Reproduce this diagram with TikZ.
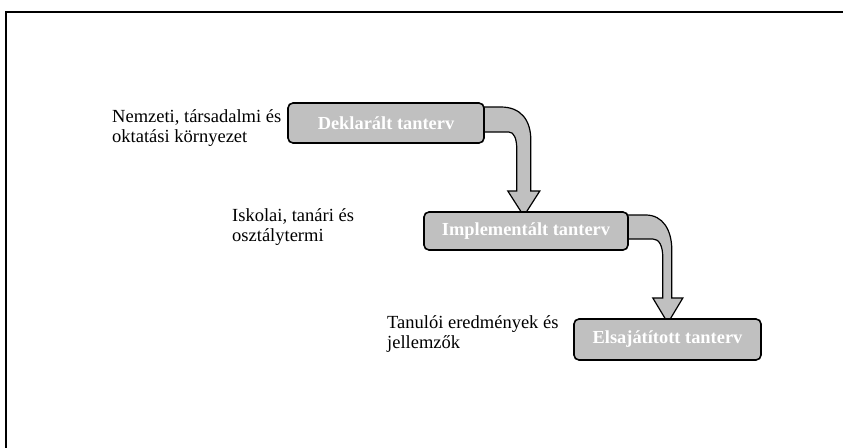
\documentclass[tikz,border=0pt]{standalone}
\usepackage{fontspec}
\setmainfont{Liberation Serif}
\usetikzlibrary{backgrounds}
\definecolor{boxgray}{HTML}{C0C0C0}

\begin{document}
\begin{tikzpicture}[x=1pt, y=-1pt]
  \tikzset{stage/.style={draw, line width=1.6pt, rounded corners=5pt, fill=boxgray,
                         text=white, font=\fontsize{18.4}{20}\selectfont\bfseries, inner sep=0pt},
           context/.style={anchor=west, align=left, inner sep=0pt, font=\fontsize{18.5}{20}\selectfont},
           bendarrow/.style={draw, line width=1.2pt, line join=miter, fill=boxgray}}

  \useasboundingbox (0,0) rectangle (843,447);
  \clip (0,0) rectangle (843,447);
  \draw[line width=1.6pt] (6,12) rectangle (870,470);

  % the three curriculum levels
  \node[stage, minimum width=196pt, minimum height=40pt] (dekl) at (386,123) {Deklarált tanterv};
  \node[stage, minimum width=204pt, minimum height=38pt] (impl) at (526,231) {Implementált tanterv};
  \node[stage, minimum width=187pt, minimum height=41pt] (elsa) at (667.5,339.5) {Elsajátított tanterv};

  % contexts on the left
  \node[context] (nemz) at (112,128) {Nemzeti, társadalmi és\\oktatási környezet};
  \node[context] (isk)  at (232,227) {Iskolai, tanári és\\osztálytermi};
  \node[context] (tan)  at (387,334.5) {Tanulói eredmények és\\jellemzők};

  % bent arrows between the levels
  \begin{pgfonlayer}{background}
  \begin{scope}[shift={(dekl.east)}]
    \draw[bendarrow] (-6,-16) -- (16,-16) .. controls (36,-16) and (46,-3) .. (46,17)
      -- (46,68) -- (55,68) -- (39,93) -- (23,68) -- (32,68) -- (32,27)
      .. controls (32,15) and (29,9) .. (24,9) -- (-6,9) -- cycle;
  \end{scope}
  \begin{scope}[shift={(impl.east)}]
    \draw[bendarrow] (-6,-16) -- (17,-16) .. controls (34,-16) and (43,-1) .. (43,19)
      -- (43,67) -- (54,67) -- (39,92) -- (24,67) -- (34,67) -- (34,27)
      .. controls (34,14) and (30,8) .. (24,8) -- (-6,8) -- cycle;
  \end{scope}
  \end{pgfonlayer}
\end{tikzpicture}
\end{document}
